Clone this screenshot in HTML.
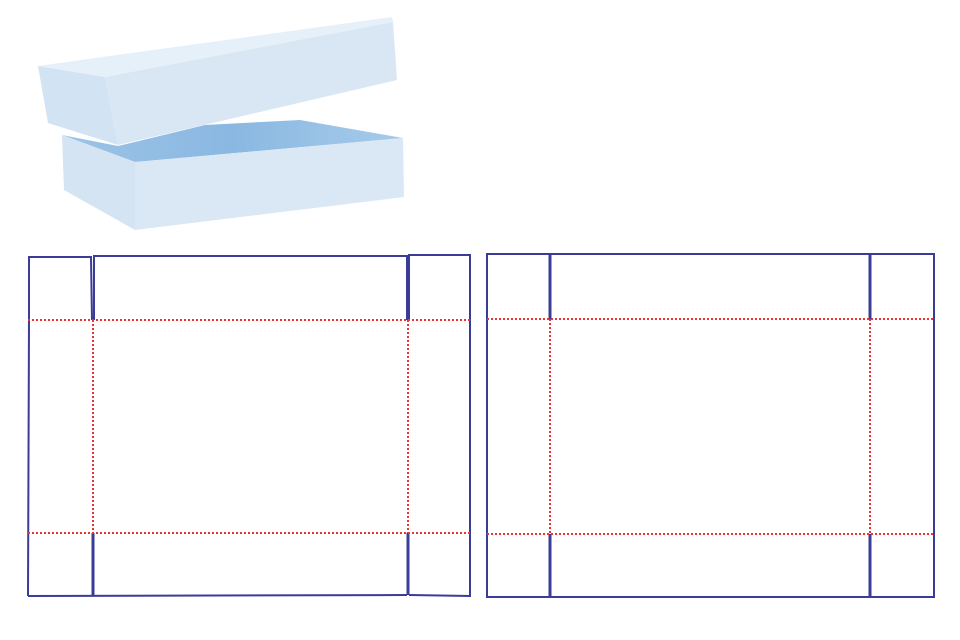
<!DOCTYPE html>
<html><head><meta charset="utf-8"><style>
html,body{margin:0;padding:0;background:#fff;width:960px;height:640px;overflow:hidden}
</style></head><body>
<svg width="960" height="640" viewBox="0 0 960 640" xmlns="http://www.w3.org/2000/svg">
<defs>
<linearGradient id="in" x1="0" y1="0" x2="1" y2="0">
<stop offset="0" stop-color="#9cc3e6"/><stop offset="0.5" stop-color="#8ab8e2"/><stop offset="1" stop-color="#a6cbea"/>
</linearGradient>
</defs>
<!-- base -->
<polygon points="62,135 118,146 205,125 300,120 403,138 135,162" fill="url(#in)"/>
<polygon points="62,135 135,162 135,230 64,190" fill="#d4e4f3"/>
<polygon points="135,162 403,138 404,197 135,230" fill="#dae8f5"/>
<!-- lid -->
<polygon points="38,66 105,77 118,145 48,123" fill="#d2e3f3"/>
<polygon points="38,66 392,17 393,22 105,77" fill="#e6f0f9"/>
<polygon points="105,77 393,22 397,80 118,145" fill="#d9e7f5"/>
<g fill="none" stroke="#3a3c98" stroke-width="2">
<!-- left dieline -->
<polyline points="29,320 29,257 91,257 92,320"/>
<polyline points="94,320 94,256 407,256 407,320"/>
<polyline points="409,320 409,255 470,255 470,596 409,595"/>
<line x1="29" y1="320" x2="28" y2="596"/>
<line x1="28" y1="596" x2="407" y2="595"/>
<line x1="93" y1="533" x2="93" y2="596" stroke-width="3"/>
<line x1="408" y1="533" x2="408" y2="595" stroke-width="3"/>
<!-- right dieline -->
<rect x="487" y="254" width="447" height="343"/>
<line x1="550" y1="254" x2="550" y2="319" stroke-width="3"/>
<line x1="870" y1="254" x2="870" y2="319" stroke-width="3"/>
<line x1="550" y1="534" x2="550" y2="597" stroke-width="3"/>
<line x1="870" y1="534" x2="870" y2="597" stroke-width="3"/>
</g>
<g fill="none" stroke="#ee3333" stroke-width="2" stroke-dasharray="2,2">
<line x1="28" y1="320" x2="470" y2="320"/>
<line x1="28" y1="533" x2="470" y2="533"/>
<line x1="93" y1="320" x2="93" y2="533"/>
<line x1="408" y1="320" x2="408" y2="533"/>
<line x1="487" y1="319" x2="934" y2="319"/>
<line x1="487" y1="534" x2="934" y2="534"/>
<line x1="550" y1="319" x2="550" y2="534"/>
<line x1="870" y1="319" x2="870" y2="534"/>
</g>
</svg>
</body></html>
